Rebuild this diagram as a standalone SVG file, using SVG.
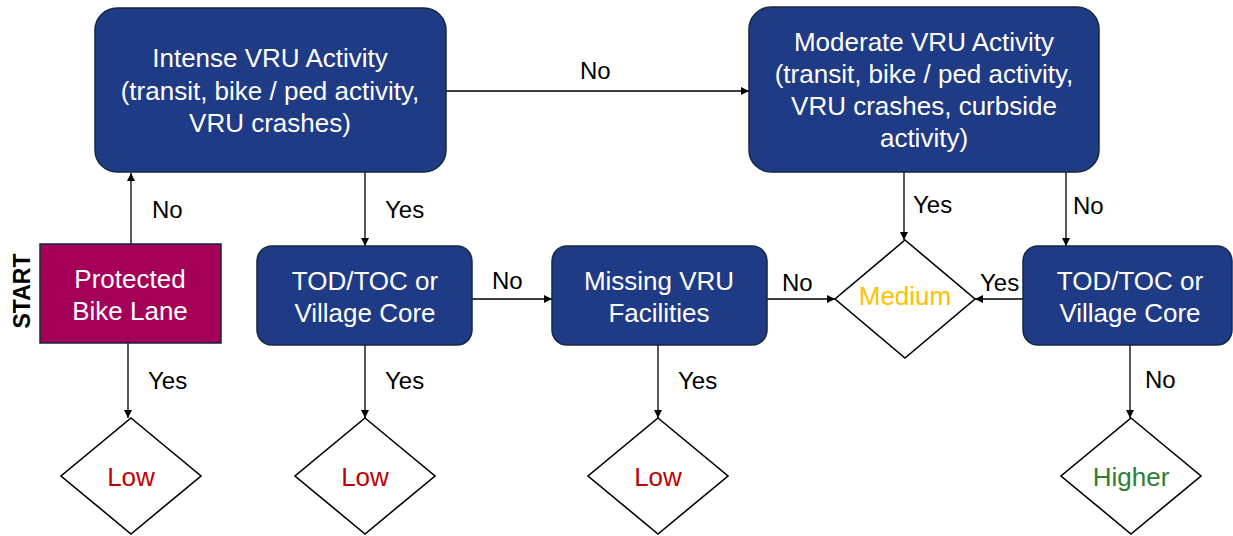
<svg xmlns="http://www.w3.org/2000/svg" width="1233" height="536" viewBox="0 0 1233 536">
<defs>
<marker id="ah" viewBox="0 0 10 10" refX="10" refY="5" markerWidth="9" markerHeight="8" markerUnits="userSpaceOnUse" orient="auto"><path d="M0,0 L10,5 L0,10 z" fill="#000"/></marker>
<style>
.box{fill:#203B85;stroke:#14283F;stroke-width:1.5}
.start{fill:#A50058;stroke:#14283F;stroke-width:1.5}
.dia{fill:#fff;stroke:#000;stroke-width:1.6}
.bt{font-family:"Liberation Sans",Arial,sans-serif;font-size:26px;fill:#fff;text-anchor:middle}
.dt{font-family:"Liberation Sans",Arial,sans-serif;font-size:26px;text-anchor:middle}
.lbl{font-family:"Liberation Sans",Arial,sans-serif;font-size:24px;fill:#000}
.c{stroke:#000;stroke-width:1.3;fill:none;marker-end:url(#ah)}
</style>
</defs>
<rect width="1233" height="536" fill="#fff"/>
<g id="connectors">
<line class="c" x1="446" y1="91" x2="749" y2="91"/>
<line class="c" x1="131" y1="244" x2="131" y2="173"/>
<line class="c" x1="365" y1="172" x2="365" y2="246"/>
<line class="c" x1="472" y1="299" x2="552" y2="299"/>
<line class="c" x1="767" y1="299" x2="835" y2="299"/>
<line class="c" x1="1023" y1="299" x2="975" y2="299"/>
<line class="c" x1="904" y1="172" x2="904" y2="240"/>
<line class="c" x1="1066" y1="172" x2="1066" y2="246"/>
<line class="c" x1="128" y1="343" x2="128" y2="418"/>
<line class="c" x1="365" y1="345" x2="365" y2="418"/>
<line class="c" x1="658" y1="345" x2="658" y2="418"/>
<line class="c" x1="1130" y1="345" x2="1130" y2="418"/>
<text class="lbl" x="580" y="79">No</text>
<text class="lbl" x="152" y="218">No</text>
<text class="lbl" x="385" y="218">Yes</text>
<text class="lbl" x="913" y="213">Yes</text>
<text class="lbl" x="1073" y="214">No</text>
<text class="lbl" x="148" y="389">Yes</text>
<text class="lbl" x="385" y="389">Yes</text>
<text class="lbl" x="492" y="289">No</text>
<text class="lbl" x="678" y="389">Yes</text>
<text class="lbl" x="782" y="291">No</text>
<text class="lbl" x="980" y="291">Yes</text>
<text class="lbl" x="1145" y="388">No</text>
</g>
<g id="start-label">
<text x="0" y="0" transform="translate(30,291) rotate(-90)" font-family="Liberation Sans,Arial,sans-serif" font-size="23" font-weight="bold" text-anchor="middle">START</text>
</g>
<g id="intense">
<rect class="box" x="95" y="8" width="351" height="164" rx="22"/>
<text class="bt" x="270" y="67">Intense VRU Activity</text>
<text class="bt" x="270" y="100">(transit, bike / ped activity,</text>
<text class="bt" x="270" y="132">VRU crashes)</text>
</g>
<g id="moderate">
<rect class="box" x="749" y="7" width="350" height="165" rx="22"/>
<text class="bt" x="924" y="51">Moderate VRU Activity</text>
<text class="bt" x="924" y="83">(transit, bike / ped activity,</text>
<text class="bt" x="924" y="115">VRU crashes, curbside</text>
<text class="bt" x="924" y="147">activity)</text>
</g>
<g id="protected">
<rect class="start" x="40" y="244" width="181" height="99"/>
<text class="bt" x="130" y="288">Protected</text>
<text class="bt" x="130" y="320">Bike Lane</text>
</g>
<g id="tod-left">
<rect class="box" x="257" y="246" width="215" height="99" rx="15"/>
<text class="bt" x="365" y="290">TOD/TOC or</text>
<text class="bt" x="365" y="322">Village Core</text>
</g>
<g id="missing">
<rect class="box" x="552" y="246" width="215" height="99" rx="15"/>
<text class="bt" x="659" y="290">Missing VRU</text>
<text class="bt" x="659" y="322">Facilities</text>
</g>
<g id="tod-right">
<rect class="box" x="1023" y="246" width="209" height="99" rx="15"/>
<text class="bt" x="1130" y="290">TOD/TOC or</text>
<text class="bt" x="1130" y="322">Village Core</text>
</g>
<g id="low1">
<polygon class="dia" points="131,418 201,476 131,534 61,476"/>
<text class="dt" x="131" y="486" fill="#C00000">Low</text>
</g>
<g id="low2">
<polygon class="dia" points="365,418 435,476 365,534 295,476"/>
<text class="dt" x="365" y="486" fill="#C00000">Low</text>
</g>
<g id="low3">
<polygon class="dia" points="658,418 728,476 658,534 588,476"/>
<text class="dt" x="658" y="486" fill="#C00000">Low</text>
</g>
<g id="medium">
<polygon class="dia" points="905,240 975,299 905,358 835,299"/>
<text class="dt" x="905" y="305" fill="#FFC000">Medium</text>
</g>
<g id="higher">
<polygon class="dia" points="1131,418 1201,476 1131,534 1061,476"/>
<text class="dt" x="1131" y="486" fill="#2E7D32">Higher</text>
</g>
</svg>
